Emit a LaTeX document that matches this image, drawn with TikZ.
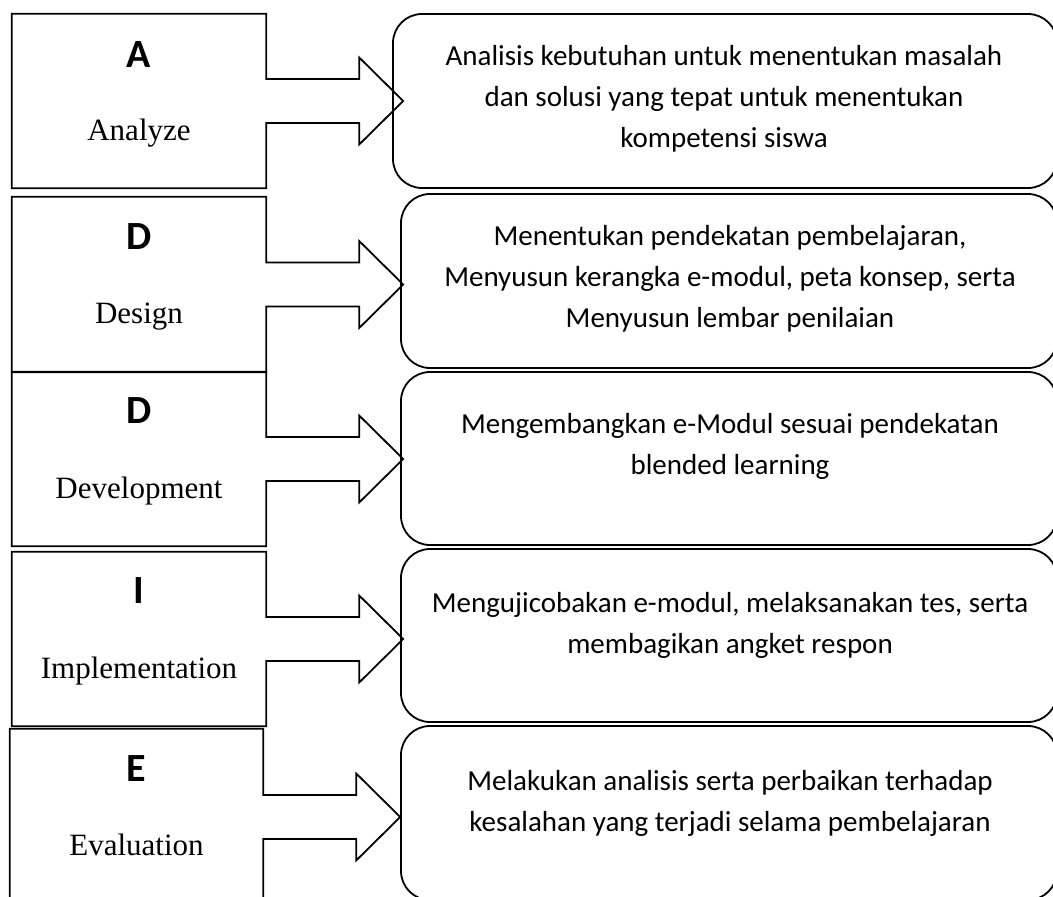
\documentclass[tikz,border=0pt]{standalone}
\usepackage{fontspec}
\setmainfont{Liberation Serif}
\newfontfamily\carlito{Carlito}
\usetikzlibrary{calc}
\newcommand{\blockarrowbox}[1]{%
  \draw[outline] (#1.north west) -- (#1.north east)
    -- ($(#1.east)+(0,-22)$) -- ($(#1.east)+(93,-22)$)
    -- ($(#1.east)+(93,-43.5)$) -- ($(#1.east)+(137,0)$)
    -- ($(#1.east)+(93,43.5)$) -- ($(#1.east)+(93,22)$)
    -- ($(#1.east)+(0,22)$) -- (#1.south east)
    -- (#1.south west) -- cycle;}
\begin{document}
\begin{tikzpicture}[x=1pt,y=-1pt,
  lbox/.style={draw=none, minimum width=254pt, minimum height=174pt, inner sep=0pt},
  outline/.style={draw=black, line width=1.8pt, line join=miter},
  rbox/.style={draw=black, line width=1.8pt, rounded corners=29pt, inner sep=0pt},
  letter/.style={font=\carlito\bfseries\fontsize{40}{42}\selectfont, anchor=base, inner sep=0pt},
  phase/.style={font=\fontsize{31}{35}\selectfont, anchor=base, inner sep=0pt},
  desc/.style={font=\carlito\fontsize{29}{41}\selectfont, align=center, inner sep=0pt}]
\useasboundingbox (0,0) rectangle (1053,897);
\fill[white] (0,0) rectangle (1053,897);

% left boxes (invisible nodes carrying the outlines)
\node[lbox] (bA) at (139,101) {};
\node[lbox, minimum height=175pt] (bD1) at (139,284.5) {};
\node[lbox] (bD2) at (139,459) {};
\node[lbox] (bI) at (139,639) {};
\node[lbox, minimum width=253pt, minimum height=176pt] (bE) at (136.5,817) {};

\blockarrowbox{bA}
\blockarrowbox{bD1}
\blockarrowbox{bD2}
\blockarrowbox{bI}
\blockarrowbox{bE}

% letters and phase names
\node[letter] (lA) at (139,67) {A};
\node[phase] (pA) at (139,140) {Analyze};
\node[letter] (lD1) at (139,249) {D};
\node[phase] (pD1) at (139,323) {Design};
\node[letter] (lD2) at (139,423) {D};
\node[phase] (pD2) at (139,498) {Development};
\node[letter] (lI) at (139,603) {I};
\node[phase] (pI) at (139,678) {Implementation};
\node[letter] (lE) at (136.5,781) {E};
\node[phase] (pE) at (136.5,855) {Evaluation};

% right rounded boxes
\draw[rbox] (393,14) rectangle (1057,188);
\node[inner sep=0pt] (rA) at (725,101) {};
\draw[rbox] (401,194) rectangle (1057,368);
\node[inner sep=0pt] (rD1) at (729,281) {};
\draw[rbox] (401,372) rectangle (1057,545);
\node[inner sep=0pt] (rD2) at (729,458.5) {};
\draw[rbox] (401,549) rectangle (1057,722);
\node[inner sep=0pt] (rI) at (729,635.5) {};
\draw[rbox] (401,726) rectangle (1057,900);
\node[inner sep=0pt] (rE) at (729,813) {};

% descriptions
\node[desc] (tA) at (724,99) {Analisis kebutuhan untuk menentukan masalah\\dan solusi yang tepat untuk menentukan\\kompetensi siswa};
\node[desc] (tD1) at (730,279) {Menentukan pendekatan pembelajaran,\\Menyusun kerangka e-modul, peta konsep, serta\\Menyusun lembar penilaian};
\node[desc] (tD2) at (730,446) {Mengembangkan e-Modul sesuai pendekatan\\blended learning};
\node[desc] (tI) at (730,625) {Mengujicobakan e-modul, melaksanakan tes, serta\\membagikan angket respon};
\node[desc] (tE) at (730,803) {Melakukan analisis serta perbaikan terhadap\\kesalahan yang terjadi selama pembelajaran};
\end{tikzpicture}
\end{document}
